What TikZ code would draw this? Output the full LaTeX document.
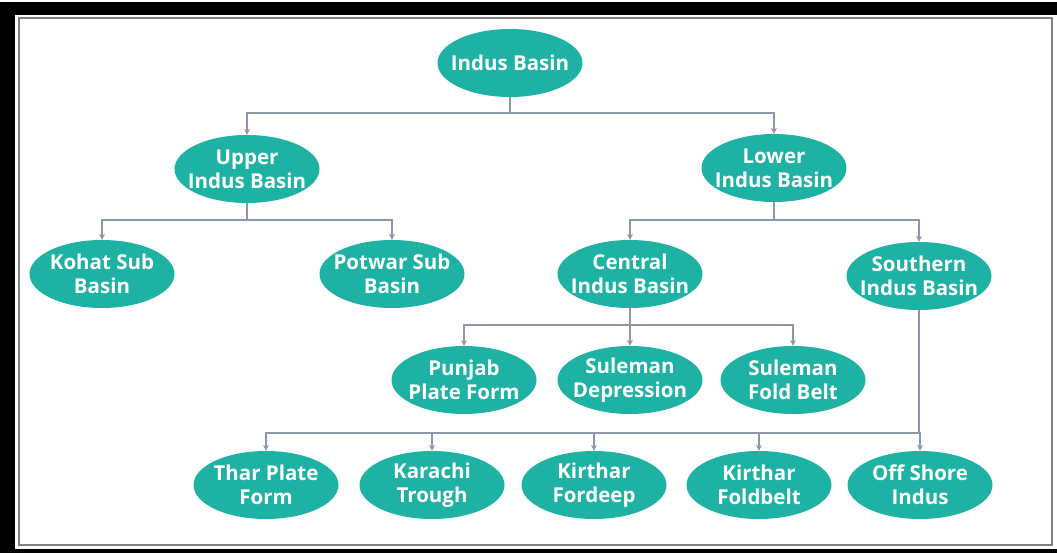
\documentclass[tikz,border=0pt]{standalone}
\usepackage{fontspec}
\setmainfont{Open Sans}
\usetikzlibrary{shapes.geometric,arrows.meta}
\definecolor{basinteal}{RGB}{30,178,164}
\definecolor{linkgray}{RGB}{140,152,170}
\begin{document}
\begin{tikzpicture}[x=1pt,y=-1pt,
  basin/.style={ellipse, fill=basinteal, text=white, align=center,
    minimum width=145pt, minimum height=68pt, inner xsep=-16pt, inner ysep=-8pt,
    font=\bfseries\fontsize{20.5}{24}\selectfont},
  link/.style={draw=linkgray, line width=1.2pt, -{Stealth[length=6pt,width=6pt]}}]
% frame
\fill[white] (0,0) rectangle (1057,553);
\fill[black] (0,2) rectangle (1057,553);
\fill[white] (15,15) rectangle (1057,549);
\draw[gray, line width=2pt] (19,18) rectangle (1052,545);
\useasboundingbox (0,0) rectangle (1057,553);
% nodes
\node[basin] (ib) at (510,63) {Indus Basin};
\node[basin] (ub) at (247,169) {Upper\\Indus Basin};
\node[basin] (lb) at (774,168) {Lower\\Indus Basin};
\node[basin] (kohat) at (102,274) {Kohat Sub\\Basin};
\node[basin] (potwar) at (392,274) {Potwar Sub\\Basin};
\node[basin] (cib) at (630,274) {Central\\Indus Basin};
\node[basin] (sib) at (919,276) {Southern\\Indus Basin};
\node[basin] (punjab) at (464,380) {Punjab\\Plate Form};
\node[basin] (suldep) at (630,380) {Suleman\\Depression};
\node[basin] (sulfold) at (793,380) {Suleman\\Fold Belt};
\node[basin] (thar) at (266,485) {Thar Plate\\Form};
\node[basin] (karachi) at (432,485) {Karachi\\Trough};
\node[basin] (fordeep) at (594,485) {Kirthar\\Fordeep};
\node[basin] (foldbelt) at (759,485) {Kirthar\\Foldbelt};
\node[basin] (offshore) at (920,485) {Off Shore\\Indus};
% connectors
\coordinate (ibbar) at (510,113);
\coordinate (ubbar) at (247,220);
\coordinate (lbbar) at (774,220);
\coordinate (cibbar) at (630,325);
\coordinate (sibbar) at (919,433);
\draw[link, -] (ib) -- (ibbar);
\draw[link] (ibbar) -| (ub);
\draw[link] (ibbar) -| (lb);
\draw[link, -] (ub) -- (ubbar);
\draw[link] (ubbar) -| (kohat);
\draw[link] (ubbar) -| (potwar);
\draw[link, -] (lb) -- (lbbar);
\draw[link] (lbbar) -| (cib);
\draw[link] (lbbar) -| (sib);
\draw[link, -] (cib) -- (cibbar);
\draw[link] (cibbar) -| (punjab);
\draw[link] (cibbar) -- (suldep);
\draw[link] (cibbar) -| (sulfold);
\draw[link, -] (sib) -- (sibbar);
\draw[link] (sibbar) -| (thar);
\draw[link] (sibbar) -| (karachi);
\draw[link] (sibbar) -| (fordeep);
\draw[link] (sibbar) -| (foldbelt);
\draw[link] (sibbar) -| (offshore);
\end{tikzpicture}
\end{document}
